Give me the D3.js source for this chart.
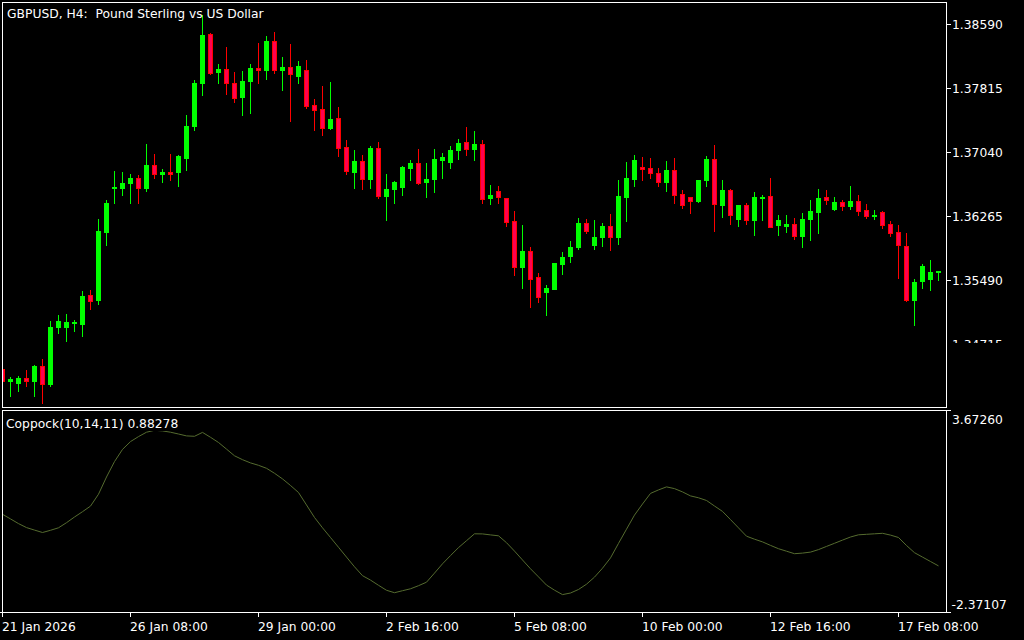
<!DOCTYPE html>
<html><head><meta charset="utf-8">
<script src="https://cdn.jsdelivr.net/npm/d3@7"></script>
<style>html,body{margin:0;padding:0;background:#000;overflow:hidden}svg{display:block}text{white-space:pre}</style>
</head><body>
<svg id="chart" width="1024" height="640"></svg>
<script>
// ---- DATA (GBPUSD H4) ----
const open  = [1.34412,1.34267,1.34243,1.34303,1.34273,1.34449,1.34225,1.34915,1.34921,1.34975,1.34963,1.35308,1.35242,1.36077,1.36610,1.36610,1.36659,1.36725,1.36610,1.36883,1.36768,1.36798,1.36792,1.36973,1.37349,1.37870,1.38473,1.38003,1.38041,1.37876,1.37700,1.37894,1.38057,1.38027,1.38384,1.38027,1.38069,1.37966,1.38033,1.37609,1.37561,1.37336,1.37452,1.37101,1.36792,1.36931,1.36719,1.37089,1.36513,1.36586,1.36622,1.36852,1.36907,1.36671,1.36707,1.36949,1.36913,1.37070,1.37161,1.37082,1.37137,1.36477,1.36568,1.36483,1.36204,1.35653,1.35841,1.35526,1.35339,1.35387,1.35678,1.35775,1.35884,1.36180,1.35908,1.36005,1.36144,1.36005,1.36501,1.36719,1.36858,1.36846,1.36786,1.36671,1.36822,1.36531,1.36495,1.36441,1.36695,1.36955,1.36404,1.36580,1.36223,1.36398,1.36211,1.36483,1.36507,1.36156,1.36138,1.36168,1.36017,1.36223,1.36319,1.36495,1.36344,1.36435,1.36392,1.36447,1.36338,1.36259,1.36313,1.36168,1.36071,1.35902,1.35242,1.35472,1.35502,1.35581];
const high  = [1.34449,1.34315,1.34328,1.34400,1.34461,1.34533,1.34994,1.35066,1.35078,1.35006,1.35357,1.35369,1.36229,1.36459,1.36810,1.36798,1.36774,1.36762,1.37137,1.37016,1.36834,1.37016,1.37004,1.37488,1.37912,1.38699,1.38481,1.38106,1.38311,1.38009,1.38021,1.38106,1.38360,1.38445,1.38493,1.38190,1.38348,1.38142,1.38154,1.37682,1.37843,1.37891,1.37585,1.37185,1.37064,1.37004,1.37113,1.37161,1.36774,1.36689,1.36871,1.36943,1.37076,1.36907,1.37076,1.37028,1.37113,1.37197,1.37343,1.37294,1.37185,1.36640,1.36628,1.36483,1.36326,1.36156,1.35890,1.35575,1.35429,1.35700,1.35829,1.35962,1.36241,1.36229,1.36217,1.36180,1.36289,1.36701,1.36919,1.37004,1.36980,1.36967,1.36846,1.36931,1.36967,1.36580,1.36495,1.36705,1.36992,1.37125,1.36701,1.36592,1.36401,1.36422,1.36556,1.36519,1.36725,1.36277,1.36277,1.36241,1.36301,1.36459,1.36592,1.36580,1.36495,1.36459,1.36628,1.36519,1.36410,1.36341,1.36326,1.36204,1.36156,1.36059,1.35502,1.35684,1.35732,1.35602];
const low   = [1.34231,1.34085,1.34146,1.34206,1.34085,1.34001,1.34210,1.34848,1.34755,1.34872,1.34816,1.35142,1.35203,1.35917,1.36426,1.36523,1.36426,1.36426,1.36571,1.36729,1.36680,1.36705,1.36632,1.36826,1.37306,1.37730,1.37985,1.37879,1.37746,1.37649,1.37492,1.37516,1.37879,1.37924,1.38000,1.37794,1.37415,1.37879,1.37577,1.37310,1.37246,1.37319,1.36995,1.36777,1.36608,1.36592,1.36608,1.36487,1.36220,1.36426,1.36523,1.36705,1.36656,1.36499,1.36559,1.36729,1.36850,1.36959,1.37007,1.36947,1.36426,1.36414,1.36426,1.36148,1.35554,1.35397,1.35167,1.35227,1.35070,1.35384,1.35566,1.35712,1.35869,1.36062,1.35869,1.35907,1.35857,1.35930,1.36208,1.36632,1.36701,1.36729,1.36632,1.36571,1.36426,1.36366,1.36305,1.36438,1.36632,1.36087,1.36257,1.36172,1.36148,1.36172,1.36039,1.36220,1.36148,1.36039,1.36075,1.35990,1.35893,1.35978,1.36062,1.36414,1.36341,1.36341,1.36353,1.36281,1.36244,1.36232,1.36123,1.36026,1.35518,1.35239,1.34949,1.35397,1.35373,1.35494];
const close = [1.34267,1.34291,1.34303,1.34273,1.34449,1.34225,1.34921,1.34994,1.34981,1.34985,1.35296,1.35239,1.36083,1.36422,1.36620,1.36665,1.36725,1.36610,1.36883,1.36768,1.36798,1.36777,1.36992,1.37355,1.37876,1.38457,1.38000,1.38045,1.37870,1.37697,1.37900,1.38057,1.38027,1.38384,1.38037,1.38069,1.37979,1.38081,1.37601,1.37552,1.37334,1.37440,1.37092,1.36814,1.36931,1.36719,1.37089,1.36511,1.36592,1.36677,1.36858,1.36907,1.36659,1.36713,1.36955,1.36980,1.37064,1.37149,1.37082,1.37137,1.36474,1.36519,1.36501,1.36196,1.35651,1.35841,1.35498,1.35288,1.35393,1.35696,1.35769,1.35890,1.36180,1.36087,1.36011,1.36144,1.36005,1.36507,1.36725,1.36943,1.36840,1.36780,1.36671,1.36822,1.36525,1.36404,1.36441,1.36701,1.36955,1.36414,1.36580,1.36275,1.36398,1.36211,1.36495,1.36495,1.36132,1.36217,1.36168,1.36026,1.36229,1.36326,1.36483,1.36453,1.36435,1.36392,1.36447,1.36329,1.36259,1.36277,1.36162,1.36065,1.35908,1.35242,1.35466,1.35660,1.35587,1.35599];
const coppock = [0.567,0.428,0.287,0.167,0.092,0.019,0.086,0.161,0.314,0.485,0.645,0.813,1.171,1.688,2.151,2.518,2.753,2.903,3.035,3.092,3.074,3.035,2.981,2.924,2.912,3.029,2.882,2.726,2.527,2.326,2.209,2.112,2.040,1.950,1.800,1.631,1.433,1.222,0.847,0.471,0.161,-0.131,-0.425,-0.720,-1.012,-1.279,-1.412,-1.568,-1.718,-1.791,-1.731,-1.673,-1.580,-1.475,-1.201,-0.922,-0.675,-0.435,-0.227,-0.020,-0.023,-0.053,-0.080,-0.287,-0.540,-0.807,-1.072,-1.315,-1.562,-1.715,-1.848,-1.800,-1.694,-1.535,-1.322,-1.054,-0.744,-0.308,0.119,0.543,0.876,1.195,1.300,1.391,1.339,1.240,1.120,1.063,0.982,0.816,0.654,0.407,0.158,-0.092,-0.182,-0.263,-0.368,-0.468,-0.543,-0.618,-0.600,-0.570,-0.495,-0.399,-0.305,-0.209,-0.116,-0.050,-0.035,-0.020,-0.005,-0.059,-0.131,-0.371,-0.588,-0.720,-0.853,-0.985];
const priceTicks = [1.38590,1.37815,1.37040,1.36265,1.35490,1.34715];
const indicatorTicks = [3.67260,-2.37107];
const timeLabels = ["21 Jan 2026","26 Jan 08:00","29 Jan 00:00","2 Feb 16:00","5 Feb 08:00","10 Feb 00:00","12 Feb 16:00","17 Feb 08:00"];
const timeLabelBars = [0,16,32,48,64,80,96,112];
const title = "GBPUSD, H4:  Pound Sterling vs US Dollar";
const indicatorTitle = "Coppock(10,14,11) 0.88278";

// ---- LAYOUT ----
const FONT = "DejaVu Sans";
const FS = 12.3;
const svg = d3.select("#chart");
svg.append("rect").attr("width",1024).attr("height",640).attr("fill","#000");

const L = 2.5, R = 946.5;
const mainTop = 2.5, mainBot = 407.5, indTop = 410.5, indBot = 612.5;

const n = open.length;
const x = d3.scaleLinear().domain([0, n-1]).range([2.5, 2.5 + 8*(n-1)]);
const y = d3.scaleLinear().domain([1.34715, 1.38590]).range([344, 24]);
const yi = d3.scaleLinear().domain([-2.37107, 3.67260]).range([612, 411]);

const defs = svg.append("defs");
defs.append("clipPath").attr("id","clipMain").append("rect")
  .attr("x",L+0.5).attr("y",mainTop+0.5).attr("width",R-L-1).attr("height",mainBot-mainTop-1);
defs.append("clipPath").attr("id","clipInd").append("rect")
  .attr("x",L+0.5).attr("y",indTop+0.5).attr("width",R-L-1).attr("height",indBot-indTop-1);

const GREEN = "#00ff00", RED = "#ff0000", REDFILL = "#ff0050";

const bars = d3.range(n).map(i => ({i, o:open[i], h:high[i], l:low[i], c:close[i]}));
const gMain = svg.append("g").attr("clip-path","url(#clipMain)").attr("shape-rendering","crispEdges");

// wicks
gMain.selectAll("line.wick").data(bars).join("line")
  .attr("x1", d => x(d.i)).attr("x2", d => x(d.i))
  .attr("y1", d => Math.round(y(d.h))).attr("y2", d => Math.round(y(d.l)) + 1)
  .attr("stroke", d => d.c >= d.o ? GREEN : RED).attr("stroke-width",1);

// bodies
gMain.selectAll("rect.body").data(bars).join("rect")
  .attr("x", d => x(d.i) - 2)
  .attr("y", d => Math.round(y(Math.max(d.o,d.c))) + 0.5)
  .attr("width", 4)
  .attr("height", d => Math.max(0, Math.round(y(Math.min(d.o,d.c))) - Math.round(y(Math.max(d.o,d.c)))))
  .attr("fill", d => d.c >= d.o ? GREEN : REDFILL)
  .attr("stroke", d => d.c >= d.o ? GREEN : RED).attr("stroke-width",1);

// indicator line
const gInd = svg.append("g").attr("clip-path","url(#clipInd)");
gInd.append("path").datum(coppock)
  .attr("d", d3.line().x((d,i) => x(i)).y(d => yi(d)))
  .attr("fill","none").attr("stroke","#556b2f").attr("stroke-width",1);

// frames
const frames = svg.append("g").attr("shape-rendering","crispEdges").attr("fill","none").attr("stroke","#fff");
frames.append("rect").attr("x",L).attr("y",mainTop).attr("width",R-L).attr("height",mainBot-mainTop);
frames.append("rect").attr("x",L).attr("y",indTop).attr("width",R-L).attr("height",indBot-indTop);
frames.append("line").attr("x1",0).attr("x2",R).attr("y1",indBot).attr("y2",indBot);

// price axis
const pa = svg.append("g").attr("font-family",FONT).attr("font-size",FS).attr("fill","#fff");
defs.append("clipPath").attr("id","clipAxis").append("rect").attr("x",947).attr("y",0).attr("width",77).attr("height",343);
const pg = pa.selectAll("g.pt").data(priceTicks).join("g").attr("clip-path","url(#clipAxis)");
pg.append("line").attr("x1",R).attr("x2",R+4).attr("y1",d=>Math.round(y(d))+0.5).attr("y2",d=>Math.round(y(d))+0.5)
  .attr("stroke","#fff").attr("shape-rendering","crispEdges");
pg.append("text").attr("x",952).attr("y",d=>Math.round(y(d))+4.7).text(d=>d.toFixed(5));

// indicator axis
const ia = svg.append("g").attr("font-family",FONT).attr("font-size",FS).attr("fill","#fff");
indicatorTicks.forEach((v,k) => {
  const yy = k === 0 ? indTop : indBot;
  ia.append("line").attr("x1",R).attr("x2",R+4).attr("y1",yy).attr("y2",yy)
    .attr("stroke","#fff").attr("shape-rendering","crispEdges");
  ia.append("text").attr("x", v < 0 ? 951.5 : 952).attr("y", k === 0 ? 424 : 609.3).text(v.toFixed(5));
});

// time axis
const ta = svg.append("g").attr("font-family",FONT).attr("font-size",FS).attr("fill","#fff");
timeLabels.forEach((t,k) => {
  const xx = x(timeLabelBars[k]);
  ta.append("line").attr("x1",xx).attr("x2",xx).attr("y1",indBot).attr("y2",indBot+4)
    .attr("stroke","#fff").attr("shape-rendering","crispEdges");
  ta.append("text").attr("x", xx - 0.5).attr("y", 630.5).text(t);
});

// titles
svg.append("text").attr("x",7).attr("y",18).attr("font-family",FONT).attr("font-size",FS)
  .attr("fill","#fff").attr("xml:space","preserve").text(title);
const ct = svg.append("text").attr("x",6).attr("y",428).attr("font-family",FONT).attr("font-size",FS)
  .attr("fill","#fff").text(indicatorTitle);
const bb = ct.node().getBBox();
svg.insert("rect", function(){ return ct.node(); })
  .attr("x",bb.x).attr("y",bb.y).attr("width",bb.width).attr("height",bb.height).attr("fill","#000");
</script>
</body></html>
